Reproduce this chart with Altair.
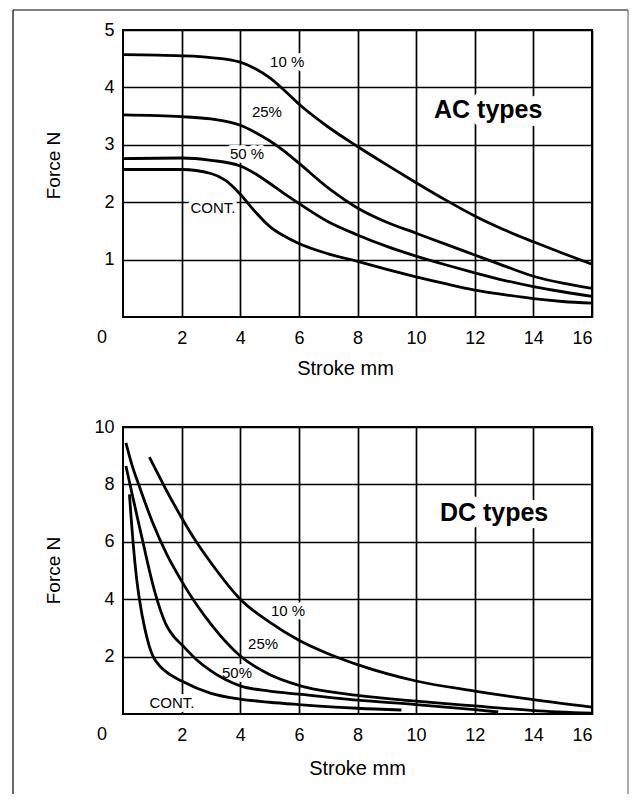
import altair as alt
import pandas as pd

FONT = "Liberation Sans"

# ---------------- AC types (force vs stroke) ----------------
ac_10_x = [0, 2, 3, 4, 4.5, 5, 5.5, 6, 7, 8, 9, 10, 11, 12, 13, 14, 15, 16]
ac_10_y = [4.57, 4.55, 4.52, 4.44, 4.33, 4.17, 3.95, 3.71, 3.31, 2.97, 2.65, 2.34, 2.04, 1.76, 1.52, 1.31, 1.11, 0.92]

ac_25_x = [0, 2, 3, 4, 4.5, 5, 5.5, 6, 7, 8, 9, 10, 11, 12, 13, 14, 15, 16]
ac_25_y = [3.52, 3.49, 3.45, 3.34, 3.22, 3.07, 2.89, 2.68, 2.25, 1.90, 1.65, 1.46, 1.27, 1.08, 0.89, 0.71, 0.59, 0.50]

ac_50_x = [0, 2, 3, 4, 4.5, 5, 5.5, 6, 7, 8, 9, 10, 11, 12, 13, 14, 15, 16]
ac_50_y = [2.76, 2.77, 2.73, 2.63, 2.50, 2.33, 2.15, 1.98, 1.66, 1.43, 1.23, 1.06, 0.91, 0.77, 0.64, 0.53, 0.44, 0.36]

ac_cont_x = [0, 2, 3, 3.5, 4, 4.5, 5, 5.5, 6, 7, 8, 9, 10, 11, 12, 13, 14, 15, 16]
ac_cont_y = [2.57, 2.57, 2.50, 2.38, 2.14, 1.84, 1.58, 1.41, 1.28, 1.10, 0.97, 0.83, 0.70, 0.58, 0.47, 0.39, 0.32, 0.27, 0.24]

# ---------------- DC types ----------------
dc_10_x = [0.9, 1.2, 1.4, 2, 2.5, 3, 4, 5, 6, 7, 8, 10, 12, 14, 16]
dc_10_y = [8.95, 8.35, 7.95, 6.84, 6.00, 5.27, 4.00, 3.20, 2.57, 2.10, 1.72, 1.15, 0.80, 0.50, 0.24]

dc_25_x = [0.1, 0.3, 0.55, 1.0, 1.5, 2, 3, 4, 5, 6, 8, 10, 12, 14, 16]
dc_25_y = [9.45, 8.70, 7.95, 6.70, 5.55, 4.63, 3.13, 2.02, 1.38, 1.00, 0.65, 0.45, 0.28, 0.12, 0.03]

dc_50_x = [0.1, 0.3, 0.5, 0.7, 0.9, 1.1, 1.3, 1.5, 1.75, 2, 2.5, 3, 4, 5, 6, 8, 10, 12, 12.8]
dc_50_y = [8.64, 7.72, 6.80, 5.90, 5.00, 4.20, 3.55, 3.05, 2.68, 2.42, 1.90, 1.50, 0.98, 0.80, 0.69, 0.48, 0.33, 0.15, 0.07]

dc_cont_x = [0.22, 0.28, 0.35, 0.45, 0.56, 0.75, 0.9, 1.03, 1.25, 1.5, 2, 3, 4, 5, 6, 8, 9.5]
dc_cont_y = [7.65, 6.80, 5.90, 4.85, 4.00, 2.95, 2.35, 2.00, 1.68, 1.45, 1.15, 0.72, 0.52, 0.41, 0.33, 0.20, 0.14]

# ---------------- annotations ----------------
ac_label_text = ["10 %", "25%", "50 %", "CONT."]
ac_label_x = [5.6, 4.91, 4.23, 3.07]
ac_label_y = [4.44, 3.57, 2.84, 1.90]

dc_label_text = ["10 %", "25%", "50%", "CONT."]
dc_label_x = [5.63, 4.78, 3.89, 1.67]
dc_label_y = [3.59, 2.44, 1.43, 0.38]

ac_title_text = ["AC types"]
ac_title_x = [12.46]
ac_title_y = [3.6]

dc_title_text = ["DC types"]
dc_title_x = [12.66]
dc_title_y = [7.0]

x_ticks = [2, 4, 6, 8, 10, 12, 14, 16]
ac_y_ticks = [1, 2, 3, 4, 5]
dc_y_ticks = [2, 4, 6, 8, 10]


def series_df(items):
    rows = []
    for name, xs, ys in items:
        for a, b in zip(xs, ys):
            rows.append({"series": name, "x": a, "y": b})
    return pd.DataFrame(rows)


def text_df(t, xs, ys):
    return pd.DataFrame({"t": t, "x": xs, "y": ys})


def panel(df, lab, big, ymax, yticks, xt_x, xt_y, yt_y, frame=False):
    xs = alt.Scale(domain=[0, 16], nice=False, zero=False)
    ys = alt.Scale(domain=[0, ymax], nice=False, zero=False)
    x_axis = alt.Axis(values=x_ticks, format="d", title="Stroke mm", grid=True, ticks=False, tickSize=0,
                      domain=False, labelFontSize=18, labelPadding=21, labelBaseline="middle",
                      titleFontSize=20, titleFontWeight="normal", titleX=xt_x, titleY=xt_y,
                      titleBaseline="middle", titleAlign="center")
    y_axis = alt.Axis(values=yticks, format="d", title="Force N", grid=True, ticks=False, tickSize=0,
                      domain=False, labelFontSize=18, labelPadding=9,
                      titleFontSize=19, titleFontWeight="normal", titleX=-70, titleY=yt_y,
                      titleBaseline="middle", titleAlign="center", titleAngle=270)
    X = alt.X("x:Q", scale=xs, axis=x_axis)
    Y = alt.Y("y:Q", scale=ys, axis=y_axis)

    halo_small = alt.Chart(lab).mark_text(font=FONT, fontSize=15, color="white", stroke="white",
                                          strokeWidth=8, strokeJoin="round", align="center",
                                          baseline="middle").encode(x=X, y=Y, text="t:N")
    halo_big = alt.Chart(big).mark_text(font=FONT, fontSize=25, fontWeight="bold", color="white",
                                        stroke="white", strokeWidth=16, strokeJoin="round",
                                        align="center", baseline="middle").encode(x="x:Q", y="y:Q", text="t:N")
    lines = alt.Chart(df).mark_line(color="black", strokeWidth=2.8, interpolate="monotone").encode(
        x="x:Q", y="y:Q", detail="series:N")
    txt_small = alt.Chart(lab).mark_text(font=FONT, fontSize=15, color="black", align="center",
                                         baseline="middle").encode(x="x:Q", y="y:Q", text="t:N")
    txt_big = alt.Chart(big).mark_text(font=FONT, fontSize=25, fontWeight="bold", color="black",
                                       align="center", baseline="middle").encode(x="x:Q", y="y:Q", text="t:N")
    zero = alt.Chart(pd.DataFrame({"x": [0], "y": [0], "t": ["0"]})).mark_text(
        font=FONT, fontSize=18, color="black", dx=-21, dy=21, align="center", baseline="middle"
    ).encode(x="x:Q", y="y:Q", text="t:N")
    layers = [halo_small, halo_big, lines, txt_small, txt_big, zero]
    if frame:
        one = pd.DataFrame({"k": [0]})
        fl = alt.Chart(one).mark_rule(color="black", strokeWidth=1.2, strokeJoin="round",
                                      strokeCap="butt").encode(
            x=alt.value(-110), y=alt.value(-20), y2=alt.value(764))
        ft = alt.Chart(one).mark_rule(color="black", strokeWidth=1.2, strokeJoin="round",
                                      strokeCap="butt").encode(
            x=alt.value(-110), x2=alt.value(505), y=alt.value(-20))
        fr = alt.Chart(one).mark_rule(color="#555555", strokeWidth=1, strokeJoin="round",
                                      strokeCap="butt").encode(
            x=alt.value(505), y=alt.value(-20), y2=alt.value(764))
        layers += [fl, ft, fr]
    return alt.layer(*layers).properties(width=469, height=287)


ac_df = series_df([("10%", ac_10_x, ac_10_y), ("25%", ac_25_x, ac_25_y),
                   ("50%", ac_50_x, ac_50_y), ("CONT", ac_cont_x, ac_cont_y)])
dc_df = series_df([("10%", dc_10_x, dc_10_y), ("25%", dc_25_x, dc_25_y),
                   ("50%", dc_50_x, dc_50_y), ("CONT", dc_cont_x, dc_cont_y)])

top = panel(ac_df, text_df(ac_label_text, ac_label_x, ac_label_y),
            text_df(ac_title_text, ac_title_x, ac_title_y), 5, ac_y_ticks, 222, 51, 135, frame=True)
bottom = panel(dc_df, text_df(dc_label_text, dc_label_x, dc_label_y),
               text_df(dc_title_text, dc_title_x, dc_title_y), 10, dc_y_ticks, 234, 54, 143)

chart = alt.vconcat(top, bottom, spacing=110, bounds="flush",
                    padding={"left": 3, "top": 0, "right": 0, "bottom": 0}).configure_view(
    stroke="black", strokeWidth=2
).configure_axis(
    labelFont=FONT, titleFont=FONT, labelColor="black", titleColor="black",
    gridColor="black", gridOpacity=1, gridWidth=1.7
)

chart.save("out.html", embed_options={"renderer": "svg", "actions": False})
